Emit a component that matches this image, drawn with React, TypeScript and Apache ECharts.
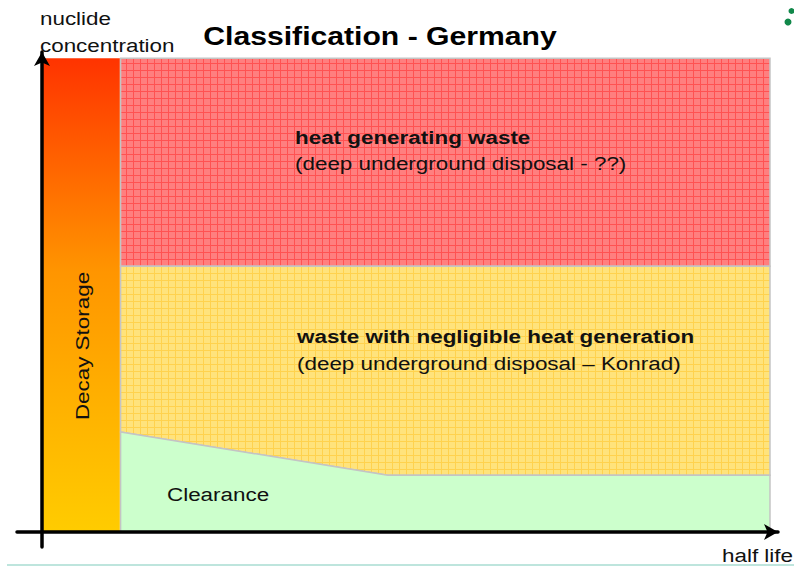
import React, { useEffect, useRef } from "react";
import * as echarts from "echarts";

// Axis ranges (abstract units: half life on x, nuclide concentration on y)
const xRange = [-3.43, 101.1];
const yRange = [-3.16, 101.3];

// Region names
const regionNames = [
  "Decay Storage",
  "heat generating waste",
  "waste with negligible heat generation",
  "Clearance",
];

// Region outlines (x = half life, y = nuclide concentration)
const decayX = [0, 10.7, 10.7, 0];
const decayY = [0, 0, 100, 100];
const heatX = [10.8, 100, 100, 10.8];
const heatY = [56.1, 56.1, 100, 100];
const lowHeatX = [10.8, 47.5, 100, 100, 10.8];
const lowHeatY = [21.1, 12.0, 12.0, 56.1, 56.1];
const clearX = [10.8, 47.5, 100, 100, 10.8];
const clearY = [21.1, 12.0, 12.0, 0, 0];

const regionX = [decayX, heatX, lowHeatX, clearX];
const regionY = [decayY, heatY, lowHeatY, clearY];

function makePattern(base: string, line: string, size: number) {
  const c = document.createElement("canvas");
  c.width = size;
  c.height = size;
  const ctx = c.getContext("2d")!;
  ctx.fillStyle = base;
  ctx.fillRect(0, 0, size, size);
  ctx.fillStyle = line;
  ctx.fillRect(0, 0, 1, size);
  ctx.fillRect(0, 0, size, 1);
  return c;
}

export default function App() {
  const ref = useRef<HTMLDivElement>(null);
  useEffect(() => {
    if (!ref.current) return;
    const chart = echarts.init(ref.current, undefined, { renderer: "svg" });

    const redPat = makePattern("#ff7f7f", "#ff5252", 7);
    const yelPat = makePattern("#ffe37c", "#ffd24e", 7);

    const fills: any[] = [
      new echarts.graphic.LinearGradient(0, 0, 0, 1, [
        { offset: 0, color: "#ff3300" },
        { offset: 0.45, color: "#ff9500" },
        { offset: 1, color: "#ffcc00" },
      ]),
      { image: redPat, repeat: "repeat" },
      { image: yelPat, repeat: "repeat" },
      "#ccffcc",
    ];
    const strokes = [null, "#c4c4c4", "#c4c4c4", "#c4c4c4"];

    const font = '"Liberation Sans", Arial, sans-serif';
    const sx = 1.18;

    const label = (text: string, x: number, y: number, bold = false) => ({
      type: "text",
      x,
      y,
      z: 10,
      scaleX: sx,
      style: {
        text,
        font: `${bold ? "bold " : ""}19px ${font}`,
        fill: "#111111",
        textVerticalAlign: "middle",
      },
    });

    const axisLine = {
      show: true,
      onZero: true,
      symbol: ["none", "arrow"],
      symbolSize: [12, 14],
      lineStyle: { color: "#000", width: 3.5 },
    };

    chart.setOption({
      animation: false,
      grid: { left: 17, right: 16, top: 52, bottom: 19 },
      xAxis: {
        type: "value",
        z: 5,
        min: xRange[0],
        max: xRange[1],
        axisLine,
        axisTick: { show: false },
        axisLabel: { show: false },
        splitLine: { show: false },
      },
      yAxis: {
        type: "value",
        z: 5,
        min: yRange[0],
        max: yRange[1],
        axisLine,
        axisTick: { show: false },
        axisLabel: { show: false },
        splitLine: { show: false },
      },
      series: [
        {
          type: "custom",
          z: 1,
          data: regionNames.map((n, i) => ({ name: n, value: [i] })),
          renderItem: (params: any, api: any) => {
            const i = params.dataIndex;
            const pts = regionX[i].map((x, k) => api.coord([x, regionY[i][k]]));
            return {
              type: "polygon",
              shape: { points: pts },
              style: {
                fill: fills[i],
                stroke: strokes[i] || "none",
                lineWidth: strokes[i] ? 1.5 : 0,
              },
            };
          },
        },
      ],
      graphic: [
        {
          type: "text",
          x: 380,
          y: 36,
          scaleX: 1.16,
          style: {
            text: "Classification - Germany",
            font: `bold 26px ${font}`,
            fill: "#000",
            textAlign: "center",
            textVerticalAlign: "middle",
          },
        },
        label("nuclide", 40, 18),
        label("concentration", 40, 45),
        label("half life", 722, 555),
        label("heat generating waste", 295, 137, true),
        label("(deep underground disposal - ??)", 295, 163),
        label("waste with negligible heat generation", 297, 336, true),
        label("(deep underground disposal \u2013 Konrad)", 297, 363),
        label("Clearance", 167, 494),
        {
          type: "text",
          x: 82,
          y: 346,
          rotation: Math.PI / 2,
          scaleX: sx,
          z: 10,
          style: {
            text: "Decay Storage",
            font: `19px ${font}`,
            fill: "#111111",
            textAlign: "center",
            textVerticalAlign: "middle",
          },
        },
        {
          type: "circle",
          shape: { cx: 791.5, cy: 11, r: 3 },
          style: { fill: "#11884a" },
        },
        {
          type: "circle",
          shape: { cx: 788, cy: 22, r: 3.5 },
          style: { fill: "#11884a" },
        },
        {
          type: "line",
          shape: { x1: 7, y1: 565, x2: 794, y2: 565 },
          style: { stroke: "#a9dcd2", lineWidth: 1.5 },
        },
      ],
    });
    return () => chart.dispose();
  }, []);
  return (
    <div
      ref={ref}
      style={{ position: "fixed", left: 0, top: 0, width: 794, height: 566, background: "#fff" }}
    />
  );
}
